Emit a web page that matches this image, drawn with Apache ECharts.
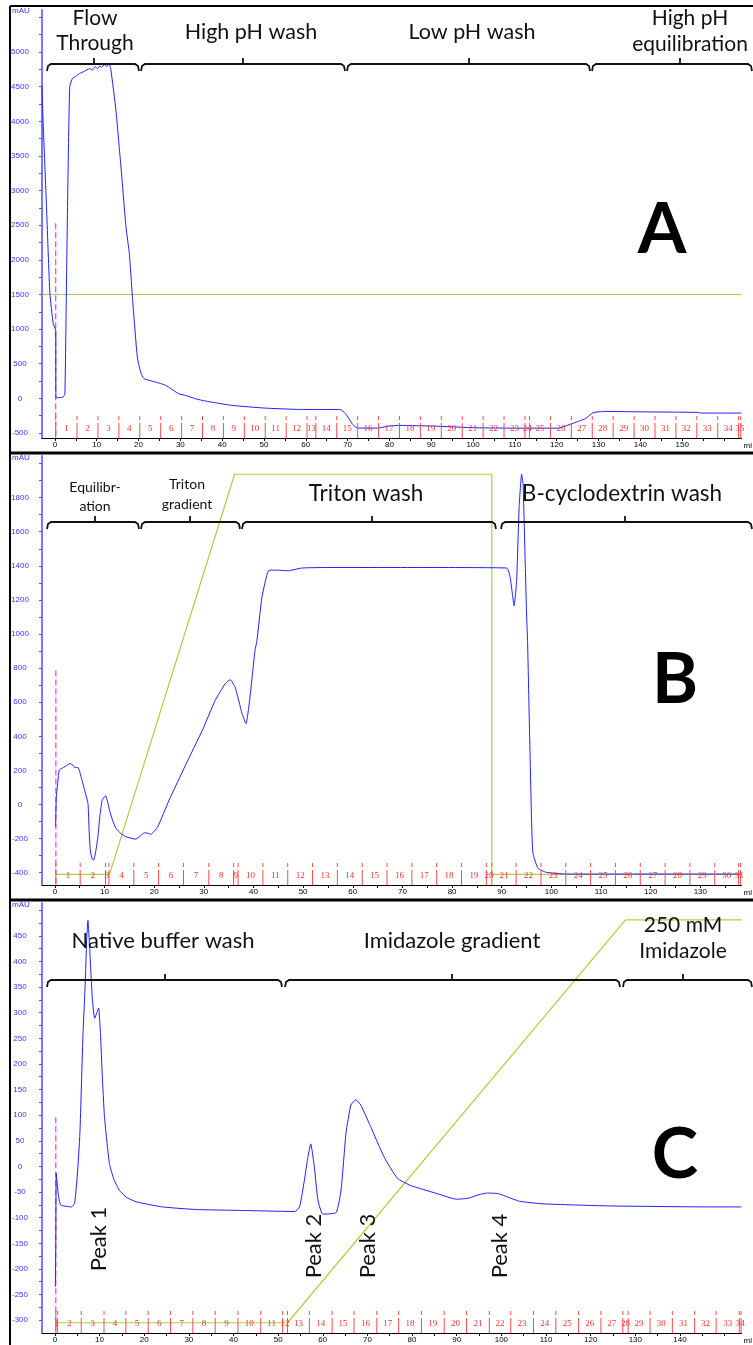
<!DOCTYPE html>
<html><head><meta charset="utf-8">
<script src="https://cdn.jsdelivr.net/npm/echarts@6/dist/echarts.min.js"></script>
<style>html,body{margin:0;padding:0;background:#fff}#c{width:753px;height:1345px}</style>
</head><body><div id="c"></div>
<script>
// ---------- Panel A (ml, mAU) ----------
const uvA = [[-3.1,4500],[-2.8,3970],[-2.0,2760],[-1.2,1520],[-0.4,1080],[0.2,980],[0.25,10],[1.0,10],[2.0,20],[2.4,70],[2.8,1800],[3.15,3250],[3.55,4500],[4.2,4620],[5.0,4650],[5.9,4690],[7.0,4720],[8.3,4760],[9.0,4740],[9.6,4790],[10.2,4760],[10.7,4800],[11.2,4780],[11.8,4820],[12.4,4790],[13.0,4830],[13.4,4740],[14.6,4160],[15.8,3340],[17.0,2475],[17.8,2090],[18.6,1415],[19.7,600],[20.5,380],[21.3,285],[24.1,236],[26.5,188],[29.6,67],[31.2,43],[33.6,-5],[36,-39],[42.3,-101],[50.2,-140],[58,-159],[68.3,-163],[69.5,-221],[71.1,-366],[72.3,-429],[77,-429],[80,-400],[82.5,-390],[90.4,-400],[100.7,-424],[110.2,-430],[120.4,-430],[123.6,-366],[126.8,-294],[128.7,-207],[131.5,-188],[137.8,-193],[153.6,-202],[154.5,-212],[164.2,-212]];
const gradA = [[-3.1,1500],[164.2,1500]];
const injectA = [[0.2,2530],[0.2,-572]];
const fracA = [0.2,5.3,10.3,15.3,20.3,25.3,30.3,35.3,40.3,45.3,50.3,55.3,60.3,62.4,67.4,72.4,77.4,82.4,87.4,92.4,97.4,102.4,107.4,112.4,113.5,118.5,123.5,128.5,133.5,138.5,143.5,148.5,153.5,158.5,163.5,164];
const yLabelsA = [-500,0,500,1000,1500,2000,2500,3000,3500,4000,4500,5000];
const xLabelsA = [0,10,20,30,40,50,60,70,80,90,100,110,120,130,140,150];

// ---------- Panel B ----------
const uvB = [[0.15,-131],[0.3,45],[0.87,201],[1.33,211],[2.2,225],[3,240],[3.6,232],[4,217],[4.67,217],[5.3,160],[6,84],[6.67,6],[6.9,-150],[7.13,-267],[7.5,-320],[7.8,-326],[8.2,-280],[8.67,-189],[9.1,-60],[9.53,25],[10.2,51],[10.6,20],[11,-33],[11.6,-90],[12.3,-140],[13.3,-170],[14.3,-189],[16.3,-203],[17.2,-185],[18,-166],[18.7,-168],[19.3,-175],[20.7,-131],[23,25],[26.3,230],[29.7,435],[32.3,611],[34.3,708],[35.3,732],[36.3,688],[37.7,533],[38.5,474],[39.3,630],[40.3,903],[40.7,961],[41.7,1215],[43,1371],[44.3,1375],[47,1371],[49.7,1387],[55,1390],[75,1390],[91,1387],[91.7,1332],[92.5,1166],[93,1313],[93.5,1742],[94,1937],[94.3,1878],[94.7,1449],[95,1118],[95.2,961],[96,-91],[96.3,-287],[97.3,-374],[99,-398],[103,-408],[138.3,-408]];
const gradB = [[0.2,-410],[11,-410],[36.2,1937],[88,1937],[88,-410],[138.3,-410]];
const injectB = [[0.2,786],[0.2,-472]];
const fracB = [0.2,5.1,10.2,10.9,15.9,20.9,25.9,31,36,36.9,41.9,46.9,51.9,56.9,61.9,66.9,71.9,76.9,81.9,86.9,88,92.9,97.9,102.9,107.9,112.9,117.9,122.9,127.9,132.9,137.7,138.1];
const yLabelsB = [-400,-200,0,200,400,600,800,1000,1200,1400,1600,1800];
const xLabelsB = [0,10,20,30,40,50,60,70,80,90,100,110,120,130];

// ---------- Panel C ----------
const uvC = [[0.1,-235],[0.2,-150],[0.3,-13],[0.7,-50],[1.26,-75],[3.7,-79],[4.4,-72],[5.0,-20],[5.6,65],[6.3,260],[6.8,358],[7.1,440],[7.4,480],[7.8,423],[8.4,325],[8.9,289],[9.4,300],[9.8,309],[10.2,260],[10.6,180],[11.1,97],[12.2,6],[13.2,-25],[14.4,-46],[16,-60],[18.2,-69],[24.1,-79],[31.5,-84],[42.6,-86],[53.7,-88],[54.8,-79],[55.9,-26],[56.6,15],[57.3,44],[58.1,0],[58.9,-65],[60,-93],[63,-90],[64.1,-46],[65.2,65],[66.3,120],[67.4,130],[68.5,120],[70.7,78],[73.7,19],[76.7,-23],[79.6,-37],[85.6,-53],[90,-64],[92.6,-62],[95,-55],[96.7,-52],[99.3,-53],[101.5,-60],[104.1,-68],[109.3,-73],[124,-77],[146.3,-79],[153.8,-79]];
const gradC = [[0.2,-305],[52.1,-305],[127.8,481],[153.8,481]];
const injectC = [[0.2,96],[0.2,-325]];
const fracC = [0.2,0.6,5.9,11,15.9,20.9,25.9,30.9,35.9,41,46.1,51,52.1,57,62.1,67,72.1,77,82.1,87.2,92.2,97.3,102.1,107.2,112.2,117.3,122.3,127.2,128.4,133.3,138.3,143.3,148.1,153.3,153.7];
const yLabelsC = [-300,-250,-200,-150,-100,-50,0,50,100,150,200,250,300,350,400,450];
const xLabelsC = [0,10,20,30,40,50,60,70,80,90,100,110,120,130,140];

function steps(a, b, s){ const r=[]; for(let v=a; v<=b+1e-9; v+=s) r.push(+v.toFixed(3)); return r; }

const chart = echarts.init(document.getElementById('c'), null, {renderer:'canvas'});

const BLUE = '#1f1fff', GREEN = '#a8d23c', RED = '#ff3030';
const panels = [
  {top:10, height:428, xmin:-3.08, xmax:164.2, ymin:-572, ymax:5607, yl:yLabelsA, yt:steps(-500,5500,250), xl:xLabelsA, xt:steps(0,160,5), uv:uvA, gr:gradA, inj:injectA, fr:fracA},
  {top:456, height:429, xmin:-2.59, xmax:138.3, ymin:-472, ymax:2044, yl:yLabelsB, yt:steps(-400,2000,100), xl:xLabelsB, xt:steps(0,135,5), uv:uvB, gr:gradB, inj:injectB, fr:fracB},
  {top:903, height:430, xmin:-2.89, xmax:153.8, ymin:-325, ymax:514, yl:yLabelsC, yt:steps(-300,500,25), xl:xLabelsC, xt:steps(0,150,5), uv:uvC, gr:gradC, inj:injectC, fr:fracC}
];

const grid=[], xAxis=[], yAxis=[], series=[];
panels.forEach((p,i)=>{
  grid.push({left:42, right:5, top:p.top, height:p.height});
  xAxis.push({type:'value', gridIndex:i, min:p.xmin, max:p.xmax, name:'ml', nameLocation:'end', nameGap:2,
    nameTextStyle:{fontSize:8, color:'#000', fontFamily:'Liberation Sans', verticalAlign:'top', padding:[4,0,0,0]},
    axisLine:{onZero:false, lineStyle:{color:'#000', width:1}},
    axisTick:{customValues:p.xt, length:3, lineStyle:{color:'#000'}},
    axisLabel:{customValues:p.xl, fontSize:8, color:'#000', fontFamily:'Liberation Sans', margin:3, formatter:v=>String(v)},
    splitLine:{show:false}});
  yAxis.push({type:'value', gridIndex:i, min:p.ymin, max:p.ymax,
    axisLine:{show:true, onZero:false, lineStyle:{color:'#7878ff', width:2}},
    axisTick:{show:true, customValues:p.yt, length:3, lineStyle:{color:'#5050ff'}},
    axisLabel:{customValues:p.yl, fontSize:8, color:'#3535ff', fontFamily:'Liberation Sans', align:'center', margin:22, formatter:v=>String(v)},
    splitLine:{show:false}});
  series.push({type:'line', xAxisIndex:i, yAxisIndex:i, data:p.gr, symbol:'none', silent:true, z:2,
    lineStyle:{color:GREEN, width:1.2}});
  series.push({type:'line', xAxisIndex:i, yAxisIndex:i, data:p.inj, symbol:'none', silent:true, z:3,
    lineStyle:{color:'#ff30ff', width:1.2, type:[6,3]}});
  series.push({type:'line', xAxisIndex:i, yAxisIndex:i, data:p.uv, symbol:'none', silent:true, z:4, smooth:0.15,
    lineStyle:{color:BLUE, width:1}});
  const fd = p.fr.map((b,k)=>[b, k<p.fr.length-1 ? p.fr[k+1] : b, k+1]);
  const ymin = p.ymin;
  series.push({type:'custom', xAxisIndex:i, yAxisIndex:i, data:fd, clip:false, silent:true, z:5,
    encode:{x:[0,1]},
    renderItem:(params, api)=>{
      const cs = params.coordSys; const bottom = cs.y + cs.height;
      const x0 = api.coord([api.value(0), ymin])[0];
      const x1 = api.coord([api.value(1), ymin])[0];
      const ch = [
        {type:'line', shape:{x1:x0,y1:bottom-22,x2:x0,y2:bottom-18}, style:{stroke:'#ff4a4a', lineWidth:1}},
        {type:'line', shape:{x1:x0,y1:bottom-15,x2:x0,y2:bottom}, style:{stroke:'#ff4a4a', lineWidth:1}}
      ];
      if (x1 > x0 + 0.5) ch.push({type:'text', x:(x0+x1)/2, y:bottom-9,
        style:{text:String(api.value(2)), fill:RED, font:'9px "Liberation Serif"', align:'center', verticalAlign:'middle'}});
      return {type:'group', children:ch};
    }});
});

const FONT = 'Lato';
function txt(text, x, y, size, lh){
  return {type:'text', x, y, z:10, style:{text, fill:'#111', font:`${size}px ${FONT}`, align:'center', verticalAlign:'middle', lineHeight:lh||Math.round(size*1.22)}};
}
function big(text, x, y){
  return {type:'text', x, y, z:10, style:{text, fill:'#000', font:`bold 70px ${FONT}`, align:'center', verticalAlign:'middle'}};
}
function bracket(x1, xm, x2, y){
  return [
    {type:'polyline', z:10, shape:{points:[[x1,y+7],[x1+1,y+2],[x1+4,y],[x2-4,y],[x2-1,y+2],[x2,y+7]]}, style:{stroke:'#111', lineWidth:1.8, fill:null}},
    {type:'line', z:10, shape:{x1:xm,y1:y,x2:xm,y2:y-6}, style:{stroke:'#111', lineWidth:1.8}}
  ];
}
function rot(text, x, y){
  return {type:'text', x, y, rotation:Math.PI/2, z:10, style:{text, fill:'#111', font:`22px ${FONT}`, align:'center', verticalAlign:'middle'}};
}
function mau(y){ return {type:'text', x:12, y, style:{text:'mAU', fill:'#3535ff', font:'8px "Liberation Sans"', verticalAlign:'middle'}}; }

const graphic = [
  // frame
  {type:'line', shape:{x1:10,y1:6,x2:10,y2:1345}, style:{stroke:'#000', lineWidth:2}},
  {type:'line', shape:{x1:10,y1:6,x2:753,y2:6}, style:{stroke:'#000', lineWidth:2}},
  {type:'line', shape:{x1:10,y1:453,x2:753,y2:453}, style:{stroke:'#000', lineWidth:3}},
  {type:'line', shape:{x1:10,y1:900,x2:753,y2:900}, style:{stroke:'#000', lineWidth:3}},
  mau(11), mau(458), mau(905),
  // Panel A headers
  txt('Flow\nThrough', 95, 31, 21, 25),
  txt('High pH wash', 251, 32, 21.5),
  txt('Low pH wash', 472, 32, 21.5),
  txt('High pH\nequilibration', 690, 31, 21, 26),
  ...bracket(47, 94, 139, 64),
  ...bracket(141, 243, 345, 64),
  ...bracket(347, 469, 590, 64),
  ...bracket(592, 680, 752, 64),
  big('A', 662, 230),
  // Panel B headers
  txt('Equilibr-\nation', 95, 497, 14, 19),
  txt('Triton\ngradient', 187, 494, 14, 20),
  txt('Triton wash', 366, 494, 22.5),
  txt('B-cyclodextrin wash', 622, 494, 22.5),
  ...bracket(47, 95, 139, 522),
  ...bracket(141, 190, 240, 522),
  ...bracket(242, 372, 496, 522),
  ...bracket(501, 625, 752, 522),
  big('B', 675, 680),
  // Panel C headers
  txt('Native buffer wash', 163, 941, 22),
  txt('Imidazole gradient', 452, 941, 22),
  txt('250 mM\nImidazole', 683, 938, 21, 26),
  ...bracket(47, 165, 282, 980),
  ...bracket(285, 452, 620, 980),
  ...bracket(623, 683, 752, 980),
  big('C', 675, 1155),
  rot('Peak 1', 99, 1239),
  rot('Peak 2', 314, 1246),
  rot('Peak 3', 368, 1246),
  rot('Peak 4', 500, 1246)
];

chart.setOption({animation:false, backgroundColor:'#fff', grid, xAxis, yAxis, series, graphic});
</script>
</body></html>
